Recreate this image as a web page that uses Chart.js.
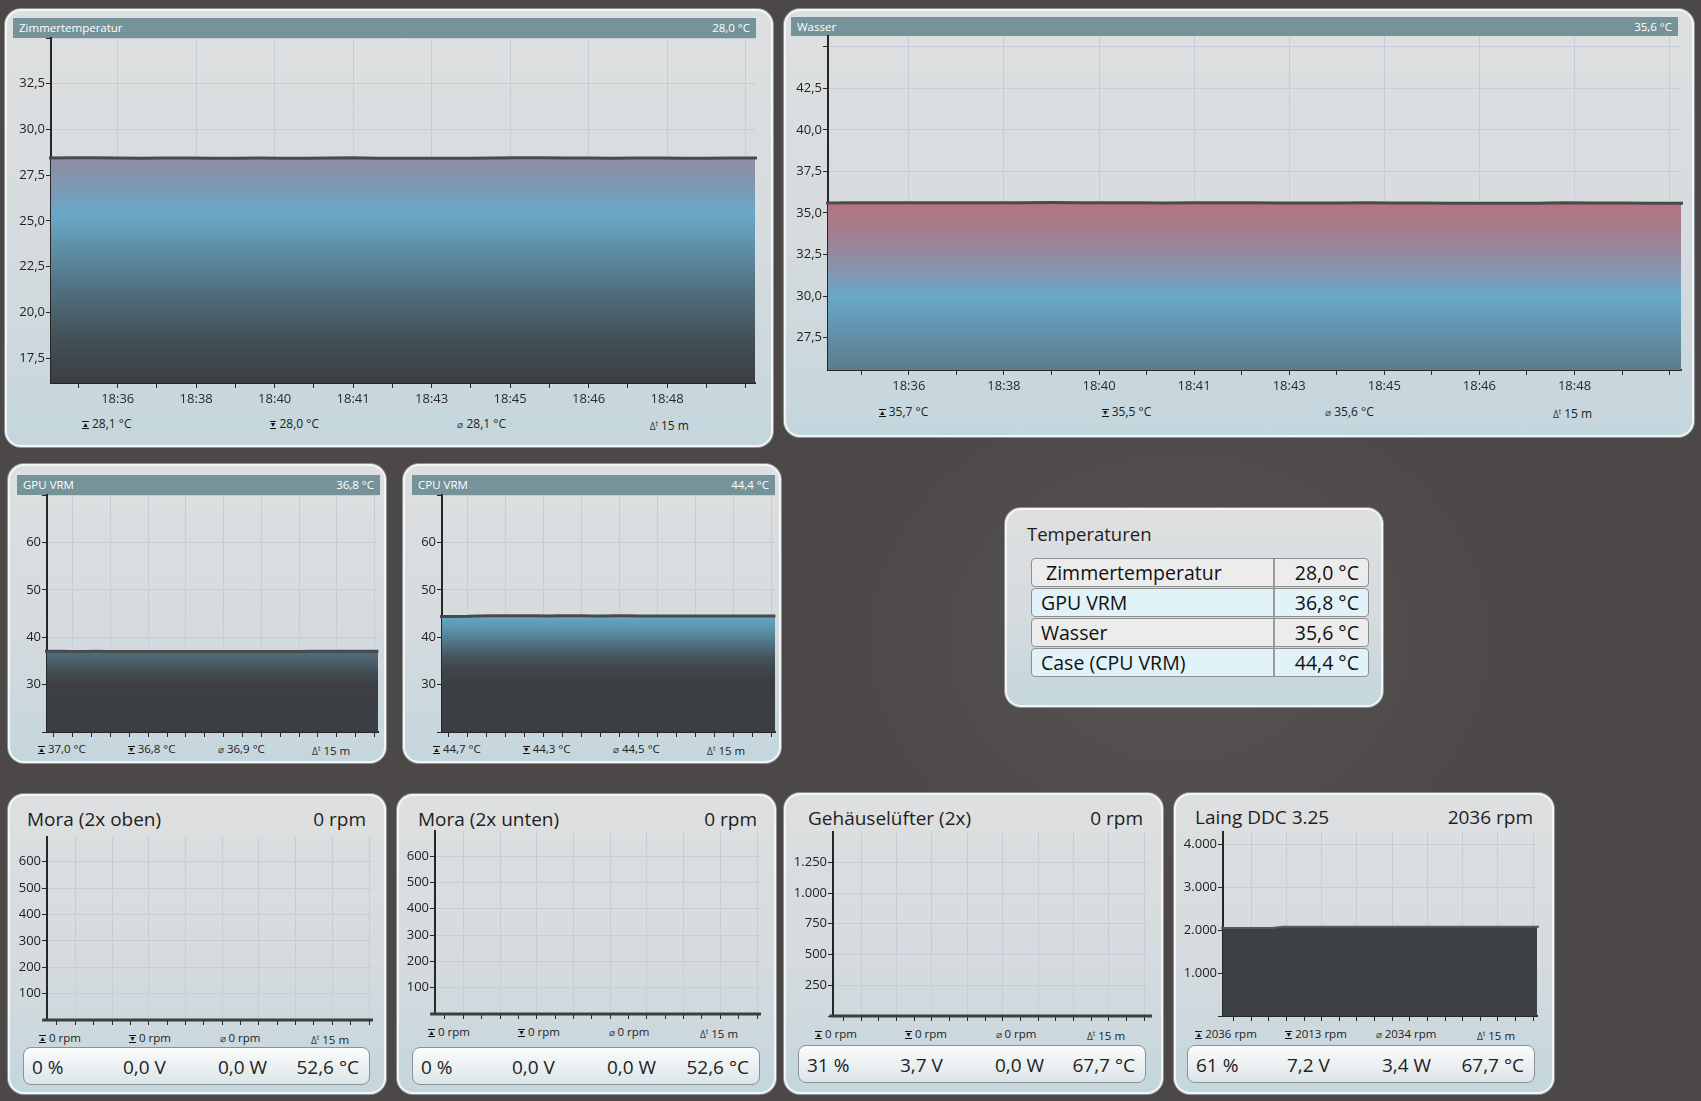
<!DOCTYPE html>
<html>
<head>
<meta charset="utf-8">
<script src="https://cdn.jsdelivr.net/npm/chart.js@4.4.1/dist/chart.umd.min.js"></script>
<style>
html, body { margin: 0; padding: 0; }
body {
  width: 1701px; height: 1101px; position: relative; overflow: hidden;
  background: radial-gradient(ellipse 520px 420px at 1180px 640px, #575352, #4b4847 70%);
  background-color: #4b4847;
  font-family: "Open Sans", "Noto Sans", sans-serif;
}
.panel {
  position: absolute; box-sizing: border-box; border-radius: 16px;
  background: linear-gradient(#dedfe0, #d5dbde 55%, #c4d6dd);
  box-shadow: inset 0 0 0 2px #f3f5f6, 0 0 0 1px #8d9294;
}
.hdr {
  position: absolute; height: 20px; line-height: 20px; box-sizing: border-box;
  padding: 0 6px; background: #76939a; color: #fff; font-size: 11.5px;
}
.hdr span { float: right; }
.stats { position: absolute; display: flex; height: 16px; line-height: 16px; font-size: 12px; color: #222; }
.stats div { flex: 1; text-align: center; white-space: nowrap; }
.ic { display: inline-block; font-size: 7px; line-height: 6px; vertical-align: 1px; border-top: 1.5px solid #111; border-bottom: 1.5px solid #111; margin-right: 3px; color: #111; }
.av, .dt { font-size: 10px; margin-right: 3px; color: #333; }
.dt sup { font-size: 7px; }
.ftitle { position: absolute; font-size: 19px; color: #1e1e1e; line-height: 26px; white-space: nowrap; }
.fbox {
  position: absolute; height: 38px; box-sizing: border-box; border: 1px solid #8b9195; border-radius: 8px;
  background: linear-gradient(#fbfcfc, #e9eef0 60%, #dbe5e8); font-size: 19px; color: #222;
}
.fbox span { position: absolute; top: 7px; line-height: 24px; white-space: nowrap; }
canvas { position: absolute; }
.ttitle { position: absolute; font-size: 18.5px; color: #1e1e1e; line-height: 26px; }
.trow {
  position: absolute; height: 29px; box-sizing: border-box; border: 1px solid #8e8e8e; border-radius: 4px;
  font-size: 19.5px; line-height: 27px; color: #111;
}
.trow .n { position: absolute; left: 9px; }
.trow .v { position: absolute; right: 9px; }
</style>
</head>
<body>

<!-- panels -->
<div class="panel" style="left:5px;top:9px;width:768px;height:438px"></div>
<div class="panel" style="left:784px;top:9px;width:910px;height:428px"></div>
<div class="panel" style="left:8px;top:464px;width:378px;height:299px"></div>
<div class="panel" style="left:403px;top:464px;width:378px;height:299px"></div>
<div class="panel" style="left:1005px;top:508px;width:378px;height:199px"></div>
<div class="panel" style="left:8px;top:794px;width:378px;height:300px"></div>
<div class="panel" style="left:397px;top:794px;width:379px;height:300px"></div>
<div class="panel" style="left:784px;top:793px;width:379px;height:301px"></div>
<div class="panel" style="left:1174px;top:793px;width:380px;height:301px"></div>

<!-- headers -->
<div class="hdr" style="left:13px;top:18px;width:743px">Zimmertemperatur<span>28,0 °C</span></div>
<div class="hdr" style="left:791px;top:17px;width:887px;height:19px;line-height:19px">Wasser<span>35,6 °C</span></div>
<div class="hdr" style="left:17px;top:475px;width:363px">GPU VRM<span>36,8 °C</span></div>
<div class="hdr" style="left:412px;top:475px;width:363px">CPU VRM<span>44,4 °C</span></div>

<!-- stats rows -->
<div class="stats" style="left:13px;top:416px;width:750px">
  <div><span class="ic">▲</span>28,1 °C</div><div><span class="ic">▼</span>28,0 °C</div>
  <div><span class="av">⌀</span>28,1 °C</div><div><span class="dt">Δ<sup>t</sup></span>15 m</div>
</div>
<div class="stats" style="left:792px;top:404px;width:892px">
  <div><span class="ic">▲</span>35,7 °C</div><div><span class="ic">▼</span>35,5 °C</div>
  <div><span class="av">⌀</span>35,6 °C</div><div><span class="dt">Δ<sup>t</sup></span>15 m</div>
</div>
<div class="stats" style="left:17px;top:741px;width:359px;font-size:11.5px">
  <div><span class="ic">▲</span>37,0 °C</div><div><span class="ic">▼</span>36,8 °C</div>
  <div><span class="av">⌀</span>36,9 °C</div><div><span class="dt">Δ<sup>t</sup></span>15 m</div>
</div>
<div class="stats" style="left:412px;top:741px;width:359px;font-size:11.5px">
  <div><span class="ic">▲</span>44,7 °C</div><div><span class="ic">▼</span>44,3 °C</div>
  <div><span class="av">⌀</span>44,5 °C</div><div><span class="dt">Δ<sup>t</sup></span>15 m</div>
</div>
<div class="stats" style="left:15px;top:1030px;width:360px;font-size:11.5px">
  <div><span class="ic">▲</span>0 rpm</div><div><span class="ic">▼</span>0 rpm</div>
  <div><span class="av">⌀</span>0 rpm</div><div><span class="dt">Δ<sup>t</sup></span>15 m</div>
</div>
<div class="stats" style="left:404px;top:1024px;width:360px;font-size:11.5px">
  <div><span class="ic">▲</span>0 rpm</div><div><span class="ic">▼</span>0 rpm</div>
  <div><span class="av">⌀</span>0 rpm</div><div><span class="dt">Δ<sup>t</sup></span>15 m</div>
</div>
<div class="stats" style="left:791px;top:1026px;width:360px;font-size:11.5px">
  <div><span class="ic">▲</span>0 rpm</div><div><span class="ic">▼</span>0 rpm</div>
  <div><span class="av">⌀</span>0 rpm</div><div><span class="dt">Δ<sup>t</sup></span>15 m</div>
</div>
<div class="stats" style="left:1181px;top:1026px;width:360px;font-size:11.5px">
  <div><span class="ic">▲</span>2036 rpm</div><div><span class="ic">▼</span>2013 rpm</div>
  <div><span class="av">⌀</span>2034 rpm</div><div><span class="dt">Δ<sup>t</sup></span>15 m</div>
</div>

<!-- fan titles -->
<div class="ftitle" style="left:27px;top:806px">Mora (2x oben)</div>
<div class="ftitle" style="left:286px;top:806px;width:80px;text-align:right">0 rpm</div>
<div class="ftitle" style="left:418px;top:806px">Mora (2x unten)</div>
<div class="ftitle" style="left:677px;top:806px;width:80px;text-align:right">0 rpm</div>
<div class="ftitle" style="left:808px;top:805px">Gehäuselüfter (2x)</div>
<div class="ftitle" style="left:1063px;top:805px;width:80px;text-align:right">0 rpm</div>
<div class="ftitle" style="left:1195px;top:804px">Laing DDC 3.25</div>
<div class="ftitle" style="left:1413px;top:804px;width:120px;text-align:right">2036 rpm</div>

<!-- fan boxes -->
<div class="fbox" style="left:23px;top:1047px;width:347px">
  <span style="left:8px">0 %</span><span style="left:99px">0,0 V</span><span style="left:194px">0,0 W</span><span style="right:10px">52,6 °C</span>
</div>
<div class="fbox" style="left:412px;top:1047px;width:348px">
  <span style="left:8px">0 %</span><span style="left:99px">0,0 V</span><span style="left:194px">0,0 W</span><span style="right:10px">52,6 °C</span>
</div>
<div class="fbox" style="left:798px;top:1045px;width:348px">
  <span style="left:8px">31 %</span><span style="left:101px">3,7 V</span><span style="left:196px">0,0 W</span><span style="right:10px">67,7 °C</span>
</div>
<div class="fbox" style="left:1187px;top:1045px;width:348px">
  <span style="left:8px">61 %</span><span style="left:99px">7,2 V</span><span style="left:194px">3,4 W</span><span style="right:10px">67,7 °C</span>
</div>

<!-- Temperaturen table -->
<div class="ttitle" style="left:1027px;top:521px">Temperaturen</div>
<div class="trow" style="left:1031px;top:558px;width:338px;background:#ececec"><span class="n" style="left:14px">Zimmertemperatur</span><span class="v">28,0 °C</span></div>
<div class="trow" style="left:1031px;top:588px;width:338px;background:#e1f2f9"><span class="n">GPU VRM</span><span class="v">36,8 °C</span></div>
<div class="trow" style="left:1031px;top:618px;width:338px;background:#ececec"><span class="n">Wasser</span><span class="v">35,6 °C</span></div>
<div class="trow" style="left:1031px;top:648px;width:338px;background:#e1f2f9"><span class="n">Case (CPU VRM)</span><span class="v">44,4 °C</span></div>
<div style="position:absolute;left:1273px;top:559px;width:2px;height:118px;background:#9a9a9a"></div>

<script>
// sample times (15 minute window)
const sampleTimes = ['18:35:10','18:35:40','18:36:10','18:36:40','18:37:10','18:37:40','18:38:10','18:38:40',
  '18:39:10','18:39:40','18:40:10','18:40:40','18:41:10','18:41:40','18:42:10','18:42:40',
  '18:43:10','18:43:40','18:44:10','18:44:40','18:45:10','18:45:40','18:46:10','18:46:40',
  '18:47:10','18:47:40','18:48:10','18:48:40','18:49:10','18:49:40','18:50:10','18:50:40'];

const zimmerTemp = [28.44,28.45,28.46,28.44,28.43,28.44,28.44,28.43,28.43,28.44,28.43,28.43,28.44,28.45,28.43,28.42,
  28.42,28.43,28.43,28.44,28.46,28.45,28.44,28.44,28.43,28.44,28.44,28.43,28.43,28.44,28.44,28.44];
const wasserTemp = [35.60,35.61,35.61,35.62,35.61,35.62,35.62,35.61,35.63,35.62,35.61,35.61,35.60,35.61,35.62,35.61,
  35.60,35.60,35.60,35.61,35.60,35.60,35.59,35.58,35.58,35.59,35.62,35.60,35.60,35.59,35.59,35.59];
const gpuVrmTemp = [37.02,37.02,37.01,37.00,37.00,37.01,37.00,37.00,36.99,36.99,36.98,36.98,36.98,36.99,36.98,36.97,
  36.97,36.98,36.97,36.97,36.98,36.98,36.97,36.97,37.04,37.05,37.03,37.02,37.02,37.01,37.01,37.01];
const cpuVrmTemp = [44.35,44.36,44.38,44.40,44.48,44.52,44.52,44.51,44.50,44.50,44.49,44.50,44.51,44.50,44.49,44.48,
  44.50,44.50,44.49,44.49,44.48,44.47,44.48,44.49,44.48,44.47,44.47,44.48,44.47,44.46,44.46,44.46];
const moraObenRpm = [0,0,0,0,0,0,0,0,0,0,0,0,0,0,0,0,0,0,0,0,0,0,0,0,0,0,0,0,0,0,0,0];
const moraUntenRpm = [0,0,0,0,0,0,0,0,0,0,0,0,0,0,0,0,0,0,0,0,0,0,0,0,0,0,0,0,0,0,0,0];
const gehaeuseRpm = [0,0,0,0,0,0,0,0,0,0,0,0,0,0,0,0,0,0,0,0,0,0,0,0,0,0,0,0,0,0,0,0];
const laingRpm = [2050,2050,2050,2050,2050,2050,2080,2080,2080,2080,2080,2080,2080,2080,2080,2080,
  2080,2080,2080,2080,2080,2080,2080,2080,2080,2080,2080,2080,2080,2080,2080,2080];

// x axis: major ticks with their labels
const majorTimes = ['18:36:40','18:38:20','18:40:00','18:41:40','18:43:20','18:45:00','18:46:40','18:48:20','18:50:00'];
const majorLabels = ['18:36','18:38','18:40','18:41','18:43','18:45','18:46','18:48',''];

// y tick labels
const zimmerYLabels = ['17,5','20,0','22,5','25,0','27,5','30,0','32,5'];
const wasserYLabels = ['27,5','30,0','32,5','35,0','37,5','40,0','42,5'];
const vrmYLabels = ['30','40','50','60'];
const moraYLabels = ['100','200','300','400','500','600'];
const gehaeuseYLabels = ['250','500','750','1.000','1.250'];
const laingYLabels = ['1.000','2.000','3.000','4.000'];

function secs(t) { const p = t.split(':').map(Number); return (p[0] - 18) * 3600 + p[1] * 60 + p[2]; }
function deNum(s) { return parseFloat(s.replace(/\./g, '').replace(',', '.')); }

const GRID = '#c8cbd8';
const AXIS = '#262626';
Chart.defaults.font.family = '"Open Sans", "Noto Sans", sans-serif';

const majorSecs = majorTimes.map(secs);
const xTickVals = [];
majorSecs.forEach(s => { xTickVals.push(s - 50); xTickVals.push(s); });

function makeChart(c) {
  const cv = document.createElement('canvas');
  const W = c.axisW + c.w + c.padR, H = c.padT + c.h + c.axisH;
  cv.width = W; cv.height = H;
  cv.style.left = (c.x - c.axisW) + 'px'; cv.style.top = (c.y - c.padT) + 'px';
  cv.style.width = W + 'px'; cv.style.height = H + 'px';
  document.body.appendChild(cv);

  const yLabelVals = c.yLabels.map(deNum);
  const yTickVals = yLabelVals.concat(c.yExtra || []);
  const points = sampleTimes.map((t, i) => ({ x: secs(t), y: c.values[i] }));

  const fillFn = ctx => {
    const ch = ctx.chart, a = ch.chartArea;
    if (!a || !c.stops) return 'transparent';
    const ys = ch.scales.y;
    const g = ch.ctx.createLinearGradient(0, a.top, 0, a.bottom);
    c.stops.forEach(([v, col]) => {
      const f = (ys.getPixelForValue(v) - a.top) / (a.bottom - a.top);
      g.addColorStop(Math.min(1, Math.max(0, f)), col);
    });
    return g;
  };

  new Chart(cv.getContext('2d'), {
    type: 'line',
    data: {
      datasets: [{
        data: points,
        borderColor: c.lineColor,
        borderWidth: c.lineWidth,
        pointRadius: 0,
        tension: 0,
        fill: c.stops ? 'start' : false,
        backgroundColor: fillFn,
        clip: c.clip === undefined ? 2 : c.clip
      }]
    },
    options: {
      responsive: false,
      animation: false,
      devicePixelRatio: 1,
      layout: { padding: { top: c.padT, right: c.padR, left: 0, bottom: 0 } },
      plugins: { legend: { display: false }, tooltip: { enabled: false } },
      scales: {
        x: {
          type: 'linear', min: c.xMin, max: c.xMax, bounds: 'data',
          grid: {
            color: g => (majorSecs.includes(g.tick.value) ? GRID : 'rgba(0,0,0,0)'),
            tickColor: AXIS, tickLength: 5, lineWidth: 1
          },
          border: { color: AXIS, width: 2 },
          ticks: {
            display: c.xLabels, autoSkip: false, maxRotation: 0, minRotation: 0, padding: 3,
            color: '#2a2a2a', font: { size: 13 },
            callback: v => { const i = majorSecs.indexOf(v); return i >= 0 ? majorLabels[i] : ''; }
          },
          afterBuildTicks: s => { s.ticks = xTickVals.map(v => ({ value: v })); },
          afterFit: s => { s.height = c.axisH; s.paddingLeft = 0; s.paddingRight = 0; }
        },
        y: {
          type: 'linear', min: c.yMin, max: c.yMax, bounds: 'data',
          grid: { color: GRID, tickColor: AXIS, tickLength: 5, lineWidth: 1 },
          border: { color: AXIS, width: 2 },
          ticks: {
            autoSkip: false, padding: 1, color: '#222', font: { size: 13 },
            callback: v => { const i = yLabelVals.findIndex(l => Math.abs(l - v) < 1e-6); return i >= 0 ? c.yLabels[i] : ''; }
          },
          afterBuildTicks: s => { s.ticks = yTickVals.map(v => ({ value: v })); },
          afterFit: s => { s.width = c.axisW; s.paddingTop = 0; s.paddingBottom = 0; }
        }
      }
    }
  });
}

const bigX = { xMin: 2115, xMax: 3012, axisW: 42, axisH: 30, padT: 8, padR: 4, xLabels: true };
const smallX = { axisW: 40, axisH: 12, padT: 8, padR: 4, xLabels: false };

makeChart(Object.assign({}, bigX, {
  x: 51, y: 38, w: 704, h: 345, yMin: 16.14, yMax: 35, yLabels: zimmerYLabels, yExtra: [35],
  values: zimmerTemp, lineColor: '#4a4a4d', lineWidth: 3,
  stops: [[28.45,'#8f8ba1'],[27,'#7f98b1'],[25.3,'#68a8c8'],[23.5,'#5e8fa7'],[21,'#4f6d7b'],[18.5,'#434f57'],[16.14,'#3b3e42']]
}));
makeChart(Object.assign({}, bigX, {
  x: 828, y: 36, w: 853, h: 334, yMin: 25.56, yMax: 45.64, yLabels: wasserYLabels, yExtra: [45],
  values: wasserTemp, lineColor: '#4a4a4d', lineWidth: 3,
  stops: [[35.6,'#b47381'],[34,'#a57c8d'],[32.5,'#938a9f'],[31,'#7c9cb6'],[30,'#68a8c8'],[28,'#6393ad'],[25.56,'#5a7c8d']]
}));
makeChart(Object.assign({}, smallX, {
  x: 47, y: 495, w: 331, h: 237, xMin: 2132, xMax: 3009, yMin: 20, yMax: 70, yLabels: vrmYLabels, yExtra: [20, 70],
  values: gpuVrmTemp, lineColor: '#4a4a4d', lineWidth: 3,
  stops: [[37,'#4e6f7e'],[35,'#4a616c'],[32,'#40494e'],[30,'#3c3f43'],[20,'#3b3e42']]
}));
makeChart(Object.assign({}, smallX, {
  x: 442, y: 495, w: 333, h: 237, xMin: 2132, xMax: 3009, yMin: 20, yMax: 70, yLabels: vrmYLabels, yExtra: [20, 70],
  values: cpuVrmTemp, lineColor: '#4a4a4d', lineWidth: 3,
  stops: [[44.5,'#66a7c8'],[42,'#5e94b0'],[39,'#527688'],[36,'#46575f'],[33,'#3e4549'],[30,'#3b3e42'],[20,'#3b3e42']]
}));
makeChart(Object.assign({}, smallX, {
  x: 47, y: 837, w: 325, h: 183, xMin: 2123, xMax: 3008, yMin: 0, yMax: 694, yLabels: moraYLabels, yExtra: [0],
  values: moraObenRpm, lineColor: '#3d3d40', lineWidth: 3, clip: false
}));
makeChart(Object.assign({}, smallX, {
  x: 435, y: 831, w: 325, h: 183, xMin: 2123, xMax: 3008, yMin: 0, yMax: 695, yLabels: moraYLabels, yExtra: [0],
  values: moraUntenRpm, lineColor: '#3d3d40', lineWidth: 3, clip: false
}));
makeChart(Object.assign({}, smallX, {
  x: 833, y: 832, w: 315, h: 184, xMin: 2120, xMax: 3011, yMin: 0, yMax: 1496, yLabels: gehaeuseYLabels, yExtra: [0],
  values: gehaeuseRpm, lineColor: '#3d3d40', lineWidth: 3, clip: false
}));
makeChart(Object.assign({}, smallX, {
  x: 1223, y: 832, w: 314, h: 184, xMin: 2120, xMax: 3011, yMin: 0, yMax: 4286, yLabels: laingYLabels, yExtra: [0],
  values: laingRpm, lineColor: '#59595c', lineWidth: 2,
  stops: [[4286,'#3e4144'],[0,'#3e4144']]
}));
</script>
</body>
</html>
